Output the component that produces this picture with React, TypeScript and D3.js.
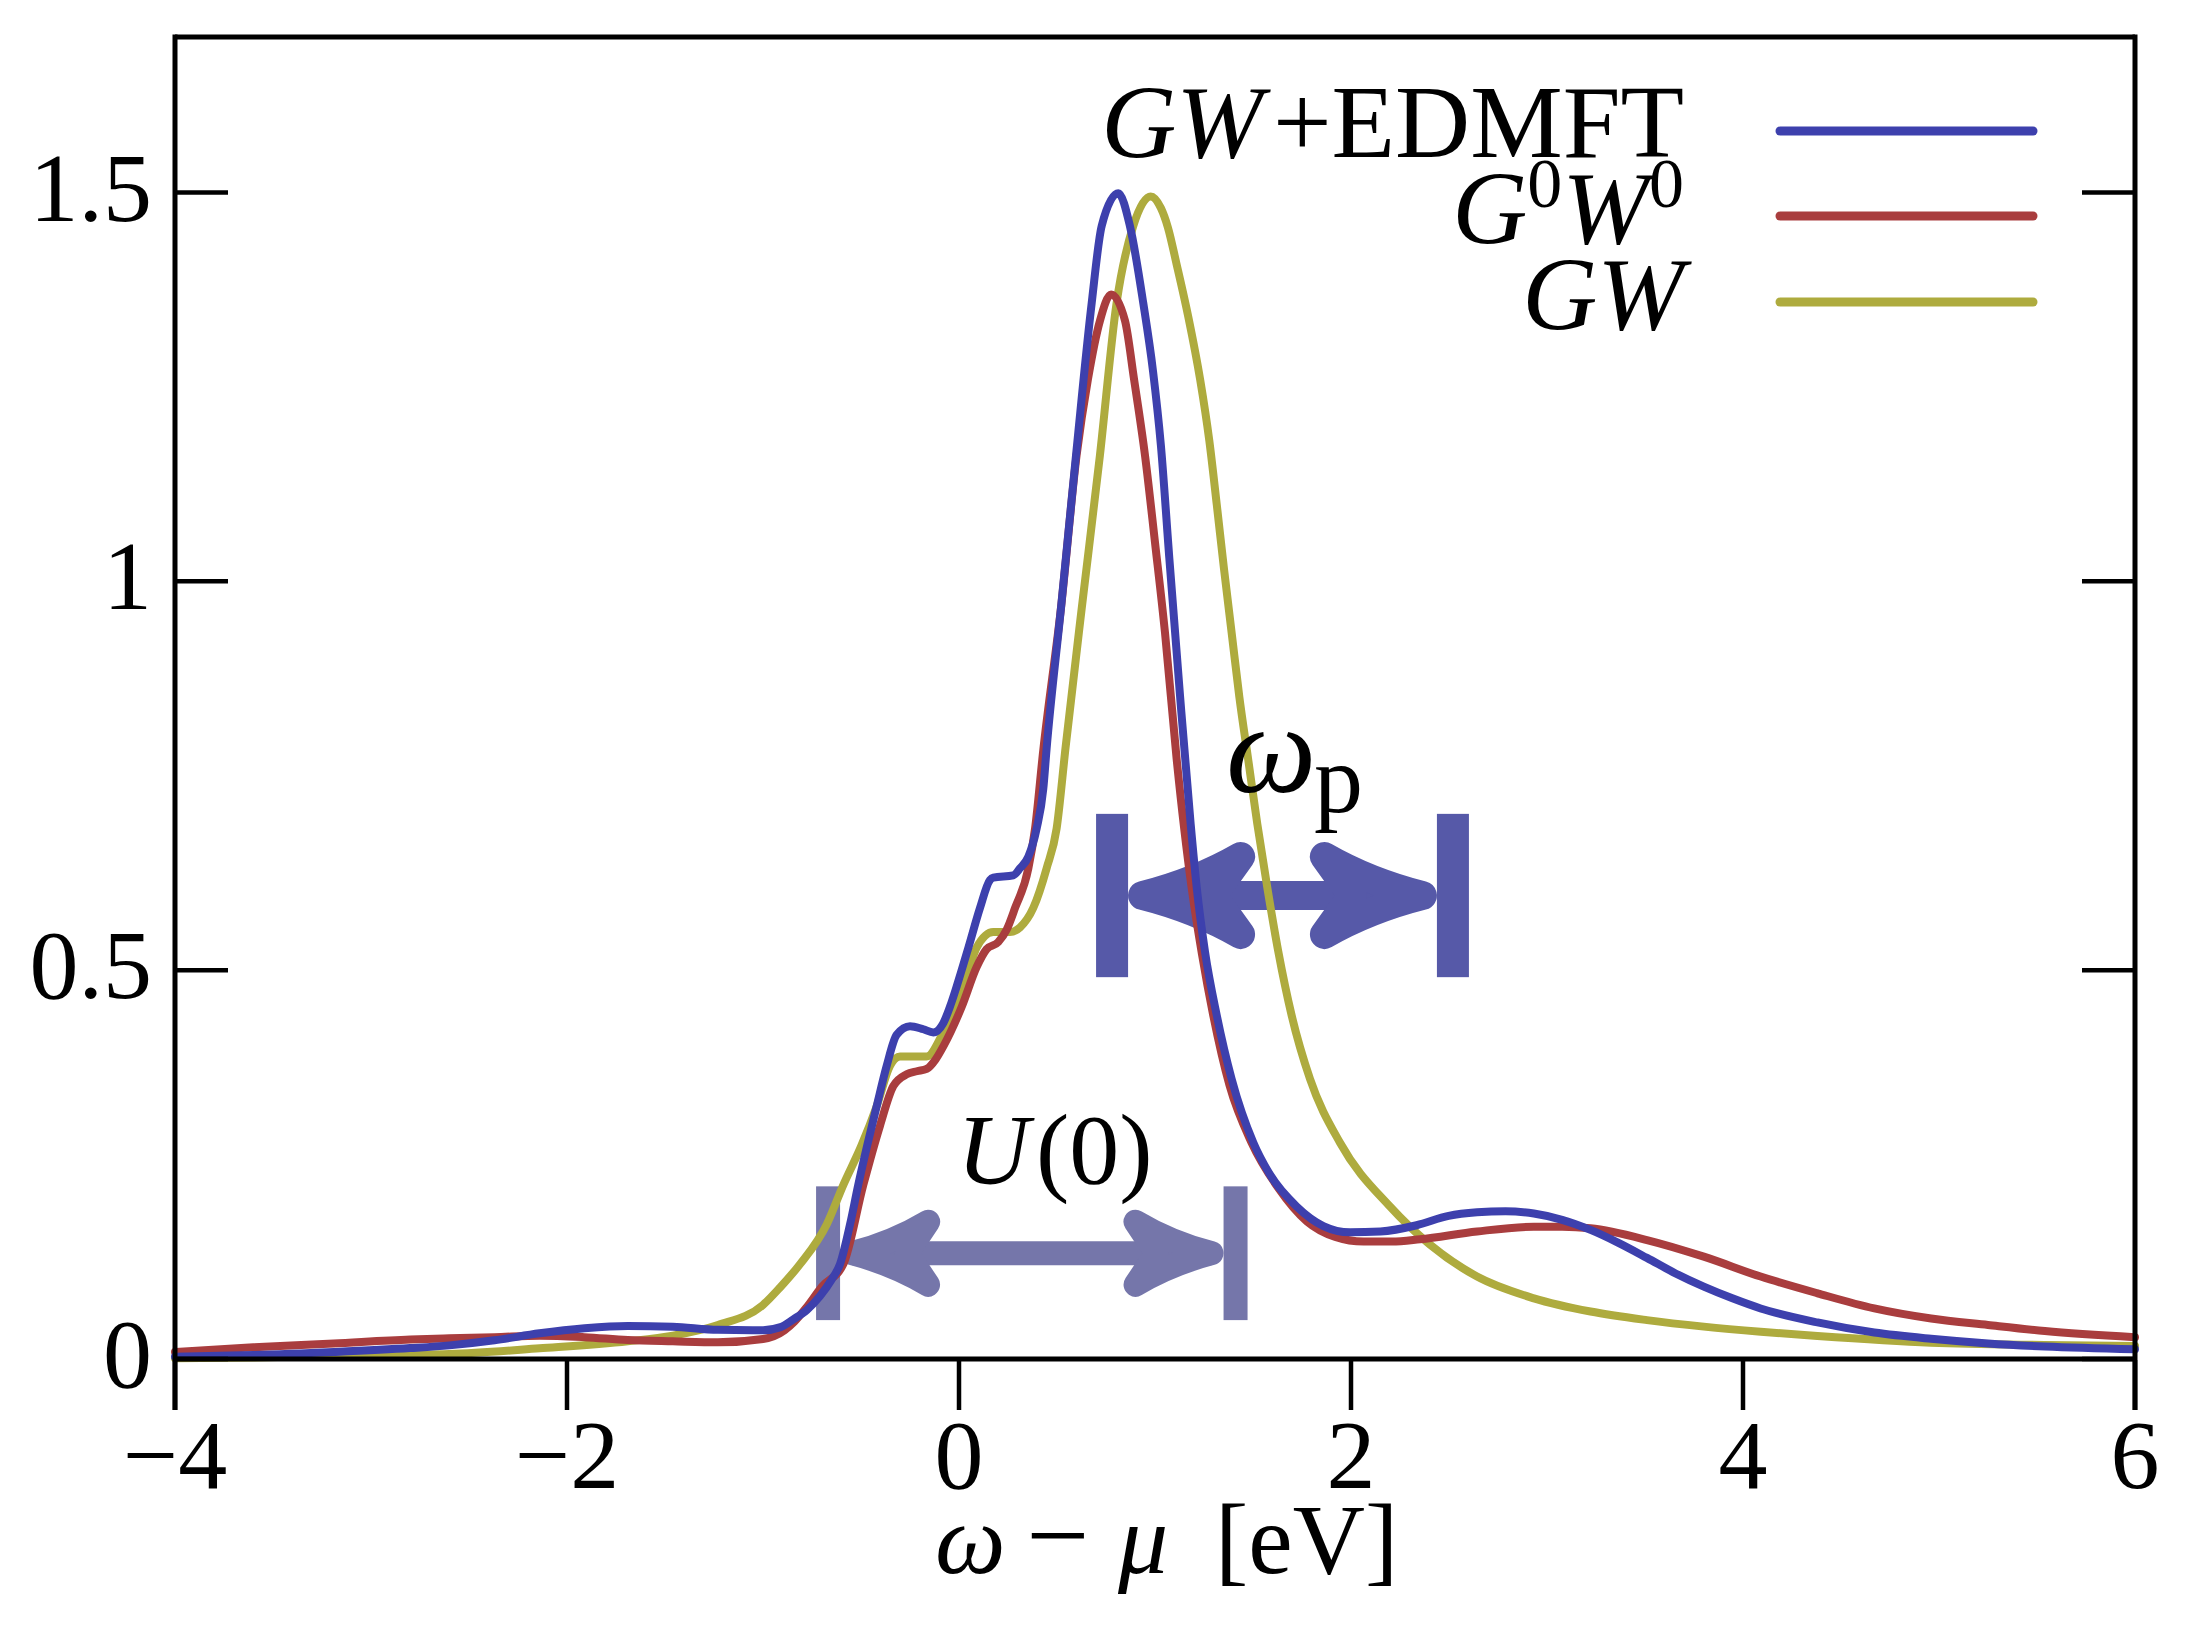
import React from "react";
import * as d3 from "d3";

const W = 2204;
const H = 1637;

const xTicks = [-4, -2, 0, 2, 4, 6];
const xTickLabels = ["\u22124", "\u22122", "0", "2", "4", "6"];
const yTicks = [0, 0.5, 1, 1.5];
const yTickLabels = ["0", "0.5", "1", "1.5"];

// GW+EDMFT (blue)
const gwEdmft: [number, number][] = [
  [-4.0, 0.003], [-3.6, 0.005], [-3.19, 0.009], [-2.8, 0.014], [-2.6, 0.0175],
  [-2.37, 0.024], [-2.14, 0.033], [-1.91, 0.0395], [-1.69, 0.0425], [-1.46, 0.0415],
  [-1.23, 0.0375], [-1.0, 0.037], [-0.91, 0.041], [-0.845, 0.051], [-0.776, 0.063],
  [-0.709, 0.081], [-0.65, 0.102], [-0.607, 0.122], [-0.556, 0.173], [-0.514, 0.224],
  [-0.468, 0.275], [-0.42, 0.325], [-0.369, 0.377], [-0.318, 0.417], [-0.25, 0.428],
  [-0.182, 0.424], [-0.131, 0.42], [-0.08, 0.432], [-0.046, 0.453], [-0.012, 0.479],
  [0.048, 0.529], [0.107, 0.58], [0.158, 0.616], [0.175, 0.619], [0.277, 0.622],
  [0.311, 0.631], [0.354, 0.646], [0.396, 0.682], [0.43, 0.733], [0.447, 0.785],
  [0.52, 0.965], [0.597, 1.162], [0.677, 1.358], [0.728, 1.457], [0.813, 1.499],
  [0.872, 1.457], [0.94, 1.358], [0.99, 1.27], [1.03, 1.175], [1.073, 1.03],
  [1.128, 0.852], [1.182, 0.688], [1.213, 0.606], [1.255, 0.524], [1.315, 0.442],
  [1.391, 0.36], [1.502, 0.278], [1.587, 0.237], [1.723, 0.196], [1.859, 0.171],
  [1.995, 0.163], [2.15, 0.164], [2.335, 0.172], [2.498, 0.184], [2.643, 0.1886],
  [2.788, 0.19], [2.933, 0.187], [3.077, 0.179], [3.222, 0.166], [3.367, 0.149],
  [3.51, 0.13], [3.656, 0.11], [3.8, 0.093], [3.946, 0.078], [4.09, 0.065],
  [4.38, 0.047], [4.67, 0.034], [4.96, 0.026], [5.25, 0.02], [5.54, 0.016],
  [6.0, 0.0125],
];

// G0W0 (red)
const g0w0: [number, number][] = [
  [-4.0, 0.009], [-3.6, 0.015], [-3.19, 0.02], [-2.8, 0.025], [-2.6, 0.0266],
  [-2.37, 0.028], [-2.14, 0.03], [-1.91, 0.028], [-1.69, 0.0244], [-1.46, 0.0227],
  [-1.23, 0.0214], [-1.0, 0.0257], [-0.89, 0.037], [-0.84, 0.048], [-0.776, 0.067],
  [-0.7, 0.093], [-0.59, 0.122], [-0.488, 0.224], [-0.403, 0.3], [-0.335, 0.351],
  [-0.267, 0.366], [-0.215, 0.37], [-0.165, 0.373], [-0.12, 0.385], [-0.08, 0.402],
  [0.014, 0.453], [0.09, 0.504], [0.141, 0.527], [0.2, 0.536], [0.243, 0.552],
  [0.286, 0.58], [0.354, 0.631], [0.388, 0.682], [0.43, 0.783], [0.52, 0.965],
  [0.6, 1.162], [0.658, 1.26], [0.719, 1.335], [0.776, 1.369], [0.847, 1.335],
  [0.893, 1.26], [0.95, 1.16], [1.0, 1.05], [1.051, 0.934], [1.111, 0.77],
  [1.187, 0.606], [1.24, 0.52], [1.297, 0.442], [1.38, 0.352], [1.493, 0.278],
  [1.63, 0.2196], [1.775, 0.177], [1.92, 0.157], [2.064, 0.151], [2.209, 0.151],
  [2.352, 0.154], [2.643, 0.164], [2.933, 0.17], [3.077, 0.17], [3.222, 0.168],
  [3.51, 0.153], [3.8, 0.1316], [4.09, 0.106], [4.38, 0.0845], [4.67, 0.065],
  [4.96, 0.052], [5.25, 0.0437], [5.54, 0.036], [6.0, 0.028],
];

// GW (olive)
const gw: [number, number][] = [
  [-4.0, 0.001], [-3.6, 0.002], [-3.19, 0.004], [-2.6, 0.0064], [-2.14, 0.0137],
  [-1.69, 0.0227], [-1.46, 0.03], [-1.23, 0.0437], [-1.0, 0.0695], [-0.913, 0.092],
  [-0.811, 0.122], [-0.675, 0.173], [-0.59, 0.224], [-0.497, 0.275], [-0.42, 0.325],
  [-0.352, 0.377], [-0.301, 0.389], [-0.165, 0.389], [-0.08, 0.42], [0.014, 0.47],
  [0.09, 0.529], [0.175, 0.549], [0.26, 0.549], [0.311, 0.555], [0.379, 0.58],
  [0.447, 0.631], [0.498, 0.682], [0.544, 0.787], [0.626, 0.965], [0.719, 1.162],
  [0.804, 1.358], [0.889, 1.457], [0.978, 1.495], [1.03, 1.48], [1.066, 1.455],
  [1.11, 1.408], [1.17, 1.34], [1.23, 1.26], [1.277, 1.181], [1.315, 1.099],
  [1.352, 1.016], [1.391, 0.934], [1.43, 0.852], [1.476, 0.77], [1.522, 0.688],
  [1.573, 0.606], [1.629, 0.524], [1.697, 0.442], [1.791, 0.36], [1.944, 0.278],
  [2.199, 0.196], [2.403, 0.147], [2.643, 0.106], [2.933, 0.078], [3.222, 0.061],
  [3.51, 0.05], [3.8, 0.0416], [4.09, 0.035], [4.38, 0.0296], [4.96, 0.021],
  [5.54, 0.018], [6.0, 0.0167],
];

const seriesNames = ["GW+EDMFT", "G0W0", "GW"];
const seriesColors = ["#3d40ad", "#a93d3e", "#aeab3e"];

// annotation arrows (data coordinates)
const omegaPArrow = { from: 0.781, to: 2.52, y: 0.596, half: 0.105 };
const u0Arrow = { from: -0.668, to: 1.411, y: 0.136, half: 0.086 };

const FONT = "Liberation Serif, Times New Roman, Times, serif";

type ArrowProps = {
  spec: { from: number; to: number; y: number; half: number };
  x: d3.ScaleLinear<number, number>;
  y: d3.ScaleLinear<number, number>;
  color: string;
  barW: number;
  shaftW: number;
  headL: number;
  headH: number;
  notch: number;
};

function DoubleArrow({ spec, x, y, color, barW, shaftW, headL, headH, notch }: ArrowProps) {
  const x0 = x(spec.from);
  const x1 = x(spec.to);
  const yc = y(spec.y);
  const yt = y(spec.y + spec.half);
  const yb = y(spec.y - spec.half);
  const tl = x0 + barW / 2 + shaftW / 2;
  const tr = x1 - barW / 2 - shaftW / 2;
  const head = (t: number, s: number) =>
    `M${t},${yc}Q${t + s * headL * 0.55},${yc - headH * 0.35} ${t + s * headL},${yc - headH}L${t + s * notch},${yc}L${t + s * headL},${yc + headH}Q${t + s * headL * 0.55},${yc + headH * 0.35} ${t},${yc}Z`;
  return (
    <g>
      <rect x={x0 - barW / 2} y={yt} width={barW} height={yb - yt} fill={color} />
      <rect x={x1 - barW / 2} y={yt} width={barW} height={yb - yt} fill={color} />
      <line x1={tl} x2={tr} y1={yc} y2={yc} stroke={color} strokeWidth={shaftW} />
      <path d={head(tl, 1)} fill={color} stroke={color} strokeWidth={shaftW} strokeLinejoin="round" />
      <path d={head(tr, -1)} fill={color} stroke={color} strokeWidth={shaftW} strokeLinejoin="round" />
    </g>
  );
}

export default function App() {
  const left = 175;
  const right = 2135;
  const top = 37;
  const bottom = 1410;
  const x = d3.scaleLinear().domain([-4, 6]).range([left, right]);
  const y = d3.scaleLinear().domain([-0.0656, 1.7]).range([bottom, top]);
  const line = d3
    .line<[number, number]>()
    .x((d) => x(d[0]))
    .y((d) => y(d[1]))
    .curve(d3.curveMonotoneX);

  const data = [gwEdmft, g0w0, gw];
  const drawOrder = [2, 1, 0];
  const legendY = [131, 216, 302];
  const legendTextY = [157, 243, 329];
  const fontStyle = { fontFamily: FONT };

  return (
    <div style={{ position: "absolute", left: 0, top: 0 }}>
      <svg width={W} height={H} viewBox={`0 0 ${W} ${H}`} style={{ display: "block", background: "#fff" }}>
        <rect x={0} y={0} width={W} height={H} fill="#fff" />
        <defs>
          <clipPath id="plotclip">
            <rect x={left - 6} y={top} width={right - left + 12} height={bottom - top} />
          </clipPath>
        </defs>

        <DoubleArrow spec={omegaPArrow} x={x} y={y} color="#5659a8" barW={32} shaftW={29} headL={98} headH={39} notch={70} />
        <DoubleArrow spec={u0Arrow} x={x} y={y} color="#7576aa" barW={24} shaftW={24} headL={76} headH={31.5} notch={55} />

        <g clipPath="url(#plotclip)">
          {drawOrder.map((i) => (
            <path
              key={seriesNames[i]}
              d={line(data[i]) || ""}
              fill="none"
              stroke={seriesColors[i]}
              strokeWidth={8}
              strokeLinejoin="round"
              strokeLinecap="round"
            />
          ))}
        </g>

        {/* frame */}
        <g stroke="#000" strokeWidth={5} fill="none">
          <line x1={left} x2={right} y1={top} y2={top} />
          <line x1={left} x2={left} y1={top - 2.5} y2={bottom} />
          <line x1={right} x2={right} y1={top - 2.5} y2={bottom} />
          <line x1={left} x2={right} y1={y(0)} y2={y(0)} />
        </g>

        {/* ticks */}
        <g stroke="#000" strokeWidth={4.5}>
          {yTicks.map((t) => (
            <g key={"yt" + t}>
              <line x1={left} x2={left + 53} y1={y(t)} y2={y(t)} />
              <line x1={right} x2={right - 53} y1={y(t)} y2={y(t)} />
            </g>
          ))}
          {xTicks.map((t) => (
            <line key={"xt" + t} x1={x(t)} x2={x(t)} y1={bottom} y2={bottom - 50} />
          ))}
        </g>

        <g style={fontStyle} fontSize={98} fill="#000">
          {yTicks.map((t, i) => (
            <text key={"yl" + t} x={152} y={y(t) + 28} textAnchor="end" style={fontStyle}>
              {yTickLabels[i]}
            </text>
          ))}
          {xTicks.map((t, i) => (
            <text key={"xl" + t} x={x(t)} y={1488} textAnchor="middle" style={fontStyle}>
              {xTickLabels[i]}
            </text>
          ))}
        </g>

        {/* axis label */}
        <text y={1573} fontSize={100} fill="#000" style={fontStyle}>
          <tspan x={935} fontStyle="italic">ω</tspan>
          <tspan x={1026} fontSize={112}>−</tspan>
          <tspan x={1118} fontStyle="italic">μ</tspan>
          <tspan x={1215}>[eV]</tspan>
        </text>

        {/* annotations */}
        <text y={792} fill="#000" style={fontStyle}>
          <tspan x={1226} fontSize={128} fontStyle="italic">ω</tspan>
          <tspan x={1314} dy={20} fontSize={98}>p</tspan>
        </text>
        <text y={1183} fontSize={100} fill="#000" style={fontStyle}>
          <tspan x={957} fontStyle="italic">U</tspan>
          <tspan x={1036}>(0)</tspan>
        </text>

        {/* legend */}
        <text x={1684} y={legendTextY[0]} textAnchor="end" fontSize={104} fill="#000" style={fontStyle}>
          <tspan fontStyle="italic">GW</tspan>
          <tspan dx={10}>+EDMFT</tspan>
        </text>
        <text x={1684} y={legendTextY[1]} textAnchor="end" fontSize={104} fill="#000" style={fontStyle}>
          <tspan fontStyle="italic">G</tspan>
          <tspan fontSize={70} dy={-36}>0</tspan>
          <tspan fontStyle="italic" dy={36}>W</tspan>
          <tspan fontSize={70} dy={-36}>0</tspan>
        </text>
        <text x={1684} y={legendTextY[2]} textAnchor="end" fontSize={104} fill="#000" style={fontStyle}>
          <tspan fontStyle="italic">GW</tspan>
        </text>
        {seriesNames.map((n, i) => (
          <line
            key={"lg" + n}
            x1={1780}
            x2={2033}
            y1={legendY[i]}
            y2={legendY[i]}
            stroke={seriesColors[i]}
            strokeWidth={9}
            strokeLinecap="round"
          />
        ))}
      </svg>
    </div>
  );
}
